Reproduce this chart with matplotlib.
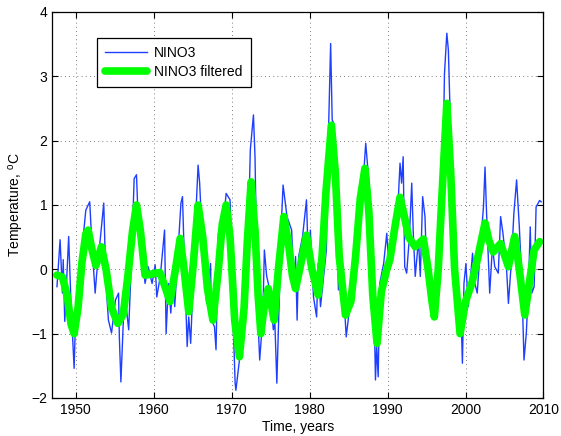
import matplotlib
matplotlib.use("Agg")
import matplotlib.pyplot as plt

plt.rcParams["font.family"] = ["Liberation Sans", "DejaVu Sans"]
plt.rcParams["mathtext.fontset"] = "custom"
plt.rcParams["mathtext.rm"] = "Liberation Sans"

# NINO3 anomaly, raw (years, deg C)
nino3_t = [1947.6, 1948.0, 1948.3, 1948.4, 1948.6, 1949.1, 1949.4, 1949.8, 1950.05, 1950.2,
           1950.8, 1951.3, 1951.8, 1952.1, 1952.5, 1952.7, 1953.1, 1953.6, 1953.8, 1954.0,
           1954.2, 1954.6, 1955.1, 1955.5, 1955.6, 1955.8, 1956.1, 1956.2, 1956.8, 1957.2,
           1957.5, 1957.8, 1958.0, 1958.5, 1958.9, 1959.3, 1959.8, 1960.2, 1960.4, 1960.85,
           1961.4, 1961.6, 1961.9, 1962.2, 1962.5, 1962.7, 1963.5, 1963.7, 1963.9, 1964.3,
           1964.5, 1964.75, 1965.3, 1965.7, 1965.9, 1966.4, 1966.8, 1967.3, 1967.4, 1967.8,
           1968.0, 1968.3, 1968.75, 1969.3, 1969.8, 1970.0, 1970.2, 1970.45, 1970.55, 1971.05,
           1971.7, 1972.1, 1972.4, 1972.8, 1973.0, 1973.2, 1973.4, 1973.6, 1974.0, 1974.2,
           1974.5, 1974.9, 1975.35, 1975.55, 1975.8, 1976.0, 1976.4, 1976.6, 1977.1, 1977.7,
           1978.0, 1978.2, 1978.4, 1978.6, 1979.1, 1979.6, 1979.85, 1980.1, 1980.5, 1980.9,
           1981.1, 1981.4, 1982.15, 1982.4, 1982.7, 1982.9, 1983.1, 1983.3, 1983.5, 1983.7,
           1984.0, 1984.4, 1984.7, 1985.1, 1985.5, 1986.2, 1986.8, 1987.2, 1987.7, 1988.0,
           1988.3, 1988.45, 1988.6, 1988.8, 1989.0, 1989.5, 1989.9, 1990.2, 1990.5, 1991.2,
           1991.6, 1991.8, 1992.0, 1992.2, 1992.45, 1992.8, 1993.1, 1993.3, 1993.55, 1993.97,
           1994.2, 1994.5, 1994.8, 1995.0, 1995.5, 1995.9, 1996.2, 1996.5, 1996.7, 1997.1,
           1997.3, 1997.6, 1997.8, 1998.0, 1998.2, 1998.45, 1998.8, 1999.1, 1999.4, 1999.6,
           1999.8, 2000.05, 2000.35, 2000.65, 2000.9, 2001.2, 2001.5, 2001.85, 2002.3, 2002.5,
           2002.7, 2003.1, 2003.45, 2003.75, 2004.2, 2004.5, 2004.8, 2005.25, 2005.5, 2005.9,
           2006.2, 2006.55, 2006.9, 2007.2, 2007.5, 2007.8, 2008.1, 2008.3, 2008.5, 2008.8,
           2009.05, 2009.5, 2009.7]
nino3 = [-0.27, 0.46, -0.37, 0.15, -0.81, 0.51, -0.53, -1.54, -0.48, -0.8,
         0.3, 0.92, 1.05, 0.35, -0.37, -0.06, 0.4, 1.03, 0.15, -0.43,
         -0.79, -0.99, -0.48, -0.37, -1.05, -1.75, -0.84, -0.27, -0.94, 0.3,
         1.41, 1.47, 0.82, 0.25, -0.22, 0.04, -0.22, 0.07, -0.43, -0.11,
         0.61, -1.0, -0.22, -0.68, -0.11, -0.58, 1.03, 1.13, 0.3, -1.2,
         -0.74, -1.15, 0.56, 1.62, 1.34, 0.04, -0.53, 0.09, -0.79, -0.89,
         -1.25, 0.56, 0.5, 1.18, 1.08, 0.35, -0.84, -1.77, -1.88, -1.36,
         -0.58, 0.4, 1.86, 2.4, 1.75, 0.3, -0.84, -1.41, -0.74, 0.3,
         -0.11, -0.32, -0.94, -0.84, -1.77, -0.94, 0.77, 1.31, 0.82, 0.61,
         -0.32, 0.2, -0.79, 0.2, 0.51, 1.08, 0.09, 0.61, -0.43, -0.74,
         0.09, -0.58, 0.3, 2.01, 3.51, 2.32, 2.27, 1.65, 0.61, -0.32,
         -0.17, -0.43, -1.05, -0.63, -0.52, 0.41, 1.23, 1.96, 1.23, 0.61,
         -0.79, -1.72, -1.2, -1.67, -0.22, 0.09, 0.56, -0.01, 0.1, 0.66,
         1.65, 1.34, 1.75, 0.04, -0.06, 0.5, 1.34, 0.56, -0.11, 0.46,
         -0.11, 1.13, 0.82, 0.04, -0.22, -0.48, -0.68, -0.32, -0.22, 1.59,
         3.04, 3.67, 3.41, 2.53, 1.34, 0.04, -0.22, -0.99, -0.58, -1.46,
         -0.22, 0.09, -0.58, -0.11, 0.25, -0.22, -0.37, 0.25, 0.97, 1.59,
         0.87, -0.37, 0.35, 0.04, -0.06, 0.82, 0.56, 0.04, -0.53, 0.15,
         0.87, 1.39, 0.66, -0.11, -1.41, -0.99, -0.17, 0.66, -0.37, -0.27,
         0.97, 1.07, 1.05]

# low-pass filtered NINO3
filt_t = [1947.6, 1948.3, 1948.9, 1949.4, 1949.8, 1950.3, 1950.8, 1951.3, 1951.6, 1952.1,
          1952.6, 1953.3, 1953.9, 1954.6, 1955.4, 1956.1, 1956.7, 1957.3, 1957.8, 1958.3,
          1958.9, 1959.5, 1960.2, 1960.8, 1961.4, 1962.1, 1962.8, 1963.4, 1963.9, 1964.5,
          1965.1, 1965.7, 1966.3, 1966.9, 1967.6, 1968.3, 1968.8, 1969.3, 1969.8, 1970.4,
          1971.0, 1971.6, 1972.0, 1972.5, 1973.0, 1973.4, 1973.75, 1974.2, 1974.7, 1975.45,
          1976.0, 1976.7, 1977.3, 1977.8, 1978.2, 1978.9, 1979.6, 1980.3, 1981.1, 1981.6,
          1982.1, 1982.8, 1983.3, 1983.8, 1984.6, 1985.3, 1985.9, 1986.5, 1987.1, 1987.6,
          1988.1, 1988.65, 1989.2, 1989.9, 1990.3, 1991.0, 1991.6, 1992.2, 1992.7, 1993.55,
          1994.0, 1994.6, 1995.2, 1995.7, 1996.0, 1996.5, 1997.0, 1997.6, 1998.1, 1998.6,
          1999.3, 2000.0, 2000.8, 2001.6, 2002.5, 2003.0, 2003.55, 2004.5, 2005.5, 2006.3,
          2006.9, 2007.6, 2008.2, 2008.8, 2009.5]
filt = [-0.09, -0.12, -0.4, -0.85, -1.0, -0.6, 0.1, 0.55, 0.61, 0.3,
        0.06, 0.35, 0.0, -0.6, -0.84, -0.7, -0.1, 0.6, 1.0, 0.6,
        -0.09, -0.08, -0.06, -0.05, -0.25, -0.5, 0.0, 0.48, 0.0, -0.66,
        0.1, 1.0, 0.5, -0.3, -0.79, 0.0, 0.7, 1.0, 0.5, -0.8,
        -1.36, -0.6, 0.4, 1.36, 0.6, -0.4, -1.0, -0.55, -0.3, -0.79,
        0.0, 0.82, 0.4, -0.1, -0.3, 0.1, 0.53, 0.0, -0.4, 0.2,
        1.2, 2.24, 1.5, 0.2, -0.71, -0.5, 0.2, 1.1, 1.57, 0.9,
        -0.4, -1.15, -0.35, 0.0, 0.15, 0.7, 1.12, 0.8, 0.5, 0.35,
        0.4, 0.47, 0.0, -0.5, -0.74, 0.0, 1.2, 2.58, 1.5, 0.0,
        -1.0, -0.5, -0.22, 0.2, 0.72, 0.45, 0.27, 0.4, 0.04, 0.51,
        0.0, -0.71, -0.2, 0.3, 0.43]

fig = plt.figure(figsize=(5.61, 4.36), dpi=100)
ax = fig.add_axes([0.0932, 0.0872, 0.8756, 0.8853])

ax.plot(nino3_t, nino3, color="#1f3fff", lw=1.0, label="NINO3")
ax.plot(filt_t, filt, color="#00ff00", lw=5.5, label="NINO3 filtered",
        solid_capstyle="round", solid_joinstyle="round")

ax.set_xlim(1947, 2010)
ax.set_ylim(-2, 4)
ax.set_xticks(range(1950, 2011, 10))
ax.set_yticks(range(-2, 5))
ax.grid(True, linestyle=(0, (1, 4)), color="#555555", linewidth=0.6)
ax.tick_params(direction="in", top=True, right=True, length=4, labelsize=10)
for s in ax.spines.values():
    s.set_linewidth(0.9)

ax.set_xlabel("Time, years", fontsize=10, labelpad=2)
ax.set_ylabel("Temperature, $^{\\mathrm{o}}$C", fontsize=10, labelpad=4)

leg = ax.legend(loc="upper left", bbox_to_anchor=(0.091, 0.933), borderaxespad=0,
                fontsize=10, handlelength=3.0, fancybox=False, framealpha=1,
                edgecolor="black", labelspacing=0.35, handletextpad=0.5,
                borderpad=0.6)
leg.get_frame().set_linewidth(0.9)

fig.savefig("out.png", dpi=100)
